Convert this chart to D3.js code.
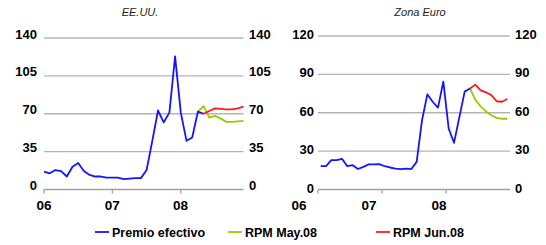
<!DOCTYPE html>
<html>
<head>
<meta charset="utf-8">
<title>Premio efectivo vs RPM</title>
<script src="https://cdn.jsdelivr.net/npm/d3@7"></script>
<style>
  body { margin: 0; background: #fff; }
  text { font-family: "Liberation Sans", Arial, sans-serif; }
</style>
</head>
<body>
<script>

// monthly observations, Jan 06 .. Dec 08
var months = d3.range(36);
var yearLabels = ["06", "07", "08"];
var seriesNames = ["Premio efectivo", "RPM May.08", "RPM Jun.08"];
var seriesColors = ["#1414ff", "#99cc00", "#ff1a1a"];

// EE.UU.
var usTicks = [0, 35, 70, 105, 140];
var usPremio = [16.5, 15, 18, 17, 12, 21, 24.5, 17, 13.5, 12, 12, 11, 11, 11, 9.5, 10, 10.5, 10.5,
                18, 45, 73, 62, 71, 123, 71, 45, 48, 72, 70];
var usMay = [72, 77, 66.5, 68, 65.5, 62.5, 62.5, 63, 63.5];   // from month 27
var usJun = [70, 72.5, 75, 74.5, 74, 74, 75, 76.5];           // from month 28

// Zona Euro
var euTicks = [0, 30, 60, 90, 120];
var euPremio = [18.2, 18.2, 23, 23, 24, 18.2, 19, 16, 17.7, 19.6, 19.6, 19.8, 18.2, 17.2, 16.4, 16,
                16.4, 16, 21.6, 54, 74.4, 68.6, 64, 84.3, 47.7, 36.5, 56.4, 76.5, 79];
var euMay = [79, 70, 65, 61, 58, 56, 55.3, 55.3];             // from month 28
var euJun = [79, 82, 77.5, 76, 73.8, 69, 68.6, 70.7];         // from month 28

var w = 546, h = 245;
var svg = d3.select("body").append("svg")
  .attr("width", w)
  .attr("height", h);

function toPoints(values, start) {
  return values.map(function(v, i) { return {m: start + i, v: v}; });
}

function drawPanel(o) {
  var g = svg.append("g");
  var yScale = d3.scaleLinear().domain([0, o.ticks[o.ticks.length - 1]]).range([189.5, o.top]);

  var px;
  if (o.band) {
    var band = d3.scaleBand().domain(months).range([o.x0, o.x1]);
    px = function(m) { return band(m) + band.bandwidth() / 2; };
    var edge = function(m) { return band(m); };
  } else {
    var lin = d3.scaleLinear().domain([0, 35]).range([o.x0, o.x1]);
    px = lin;
    var edge = lin;
  }

  // grid
  g.selectAll(".grid")
    .data(o.ticks.slice(1))
    .enter().append("line")
    .attr("x1", o.x0).attr("x2", o.x1)
    .attr("y1", function(d) { return yScale(d); })
    .attr("y2", function(d) { return yScale(d); })
    .attr("stroke", "#b4b4b4")
    .attr("stroke-width", 1.3);

  // x axis line + year ticks
  g.append("line")
    .attr("x1", o.x0).attr("x2", o.x1)
    .attr("y1", yScale(0)).attr("y2", yScale(0))
    .attr("stroke", "#a0a0a0").attr("stroke-width", 1.3);
  g.selectAll(".tk")
    .data([0, 12, 24])
    .enter().append("line")
    .attr("x1", function(d) { return edge(d); })
    .attr("x2", function(d) { return edge(d); })
    .attr("y1", yScale(0)).attr("y2", yScale(0) + 4)
    .attr("stroke", "#a0a0a0").attr("stroke-width", 1.3);

  var labX = d3.scalePoint().domain(yearLabels).range(o.labRange);
  g.selectAll(".yr")
    .data(yearLabels)
    .enter().append("text")
    .attr("x", function(d) { return labX(d); })
    .attr("y", 210)
    .attr("text-anchor", "middle")
    .attr("font-size", "13.5px").attr("font-weight", "bold")
    .text(function(d) { return d; });

  // y labels both sides
  [["end", o.leftLab], ["start", o.rightLab]].forEach(function(s) {
    g.selectAll(".yl" + s[0])
      .data(o.ticks)
      .enter().append("text")
      .attr("x", s[1])
      .attr("y", function(d) { return yScale(d) + o.labDy; })
      .attr("text-anchor", s[0])
      .attr("font-size", "13px").attr("font-weight", "bold")
      .text(function(d) { return d; });
  });

  // title
  g.append("text")
    .attr("x", o.titleX).attr("y", 16)
    .attr("text-anchor", "middle")
    .attr("font-size", "11px").attr("font-style", "italic")
    .attr("fill", "#222")
    .text(o.title);

  var line = d3.line()
    .x(function(d) { return px(d.m); })
    .y(function(d) { return yScale(d.v); });

  o.series.forEach(function(s, i) {
    g.append("path")
      .datum(toPoints(s.values, s.start))
      .attr("fill", "none")
      .attr("stroke", seriesColors[s.c])
      .attr("stroke-width", 1.8)
      .attr("stroke-linejoin", "round")
      .attr("d", line);
  });
}

drawPanel({
  title: "EE.UU.", titleX: 140, ticks: usTicks, top: 38,
  x0: 44, x1: 243.5, band: false, labRange: [44, 180.5],
  leftLab: 37, rightLab: 249, labDy: 0.5,
  series: [
    {values: usMay, start: 27, c: 1},
    {values: usJun, start: 28, c: 2},
    {values: usPremio, start: 0, c: 0}
  ]
});

drawPanel({
  title: "Zona Euro", titleX: 420, ticks: euTicks, top: 36,
  x0: 318, x1: 510, band: true, labRange: [299, 439],
  leftLab: 314, rightLab: 515, labDy: 3,
  series: [
    {values: euMay, start: 28, c: 1},
    {values: euJun, start: 28, c: 2},
    {values: euPremio, start: 0, c: 0}
  ]
});

// legend
var legX = [95, 228, 376];
var leg = svg.selectAll(".leg")
  .data(seriesNames)
  .enter().append("g")
  .attr("transform", function(d, i) { return "translate(" + legX[i] + ",232)"; });
leg.append("line")
  .attr("x1", 0).attr("x2", 14)
  .attr("stroke", function(d, i) { return seriesColors[i]; })
  .attr("stroke-width", 1.8);
leg.append("text")
  .attr("x", 17).attr("y", 4.5)
  .attr("font-size", "12.5px").attr("font-weight", "bold")
  .text(function(d) { return d; });

</script>
</body>
</html>
